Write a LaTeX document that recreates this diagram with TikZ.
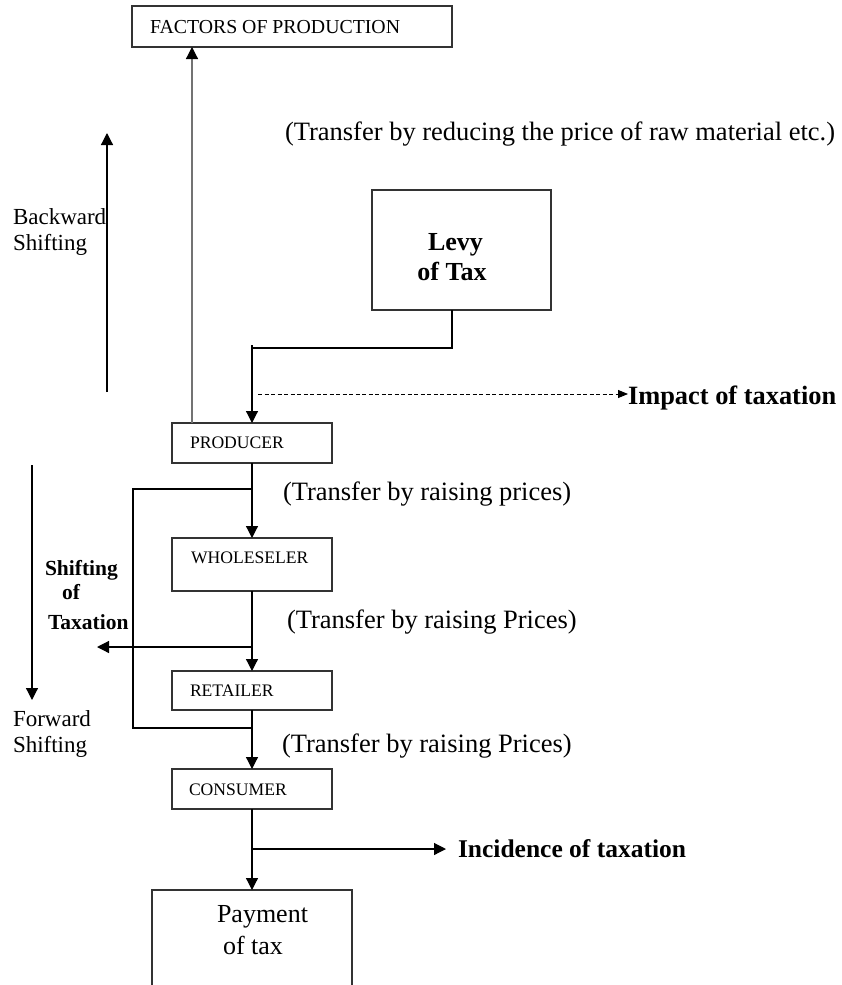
\documentclass[tikz,border=0pt]{standalone}
\usepackage{fontspec}
\setmainfont{Liberation Serif}
\usetikzlibrary{arrows.meta}
\begin{document}
\begin{tikzpicture}[x=1pt,y=-1pt,
  box/.style={draw=black!80, line width=1.3pt, inner sep=0pt, outer sep=0pt},
  lab/.style={inner sep=0pt, outer sep=0pt, anchor=base west, font=\fontsize{17.6}{20}\selectfont},
  big/.style={inner sep=0pt, outer sep=0pt, anchor=west, font=\fontsize{26.5}{30}\selectfont},
  side/.style={inner sep=0pt, outer sep=0pt, anchor=base west, font=\fontsize{23}{26}\selectfont},
  sidebold/.style={inner sep=0pt, outer sep=0pt, anchor=base west, font=\bfseries\fontsize{21.5}{24}\selectfont},
  bigbold/.style={inner sep=0pt, outer sep=0pt, anchor=base west, font=\bfseries\fontsize{26.4}{30}\selectfont},
  conn/.style={line width=1.2pt, draw=black},
  arr/.style={conn, -{Triangle[length=12pt,width=12pt]}},
]
\useasboundingbox (0,0) rectangle (842,985);

% boxes
\node[box, minimum width=320pt, minimum height=41pt] (fac) at (292,26.5) {};
\node[box, minimum width=179pt, minimum height=120pt] (levy) at (461.5,250) {};
\node[box, minimum width=160pt, minimum height=40pt] (prod) at (252,443) {};
\node[box, minimum width=160pt, minimum height=53pt] (whol) at (252,564.5) {};
\node[box, minimum width=160pt, minimum height=39pt] (ret) at (252,690.5) {};
\node[box, minimum width=160pt, minimum height=40pt] (cons) at (252,789) {};
\node[inner sep=0pt, outer sep=0pt, minimum width=200pt, minimum height=95pt, anchor=north] (pay) at (252,890) {};
\draw[box] (pay.south west) -- (pay.north west) -- (pay.north east) -- (pay.south east);

% box labels
\node[lab, font=\fontsize{19.8}{22}\selectfont] (factxt) at (150,33.5) {FACTORS OF PRODUCTION};
\node[lab] (prodtxt) at (190,448) {PRODUCER};
\node[lab] (wholtxt) at (191,563) {WHOLESELER};
\node[lab] (rettxt) at (190,696) {RETAILER};
\node[lab] (constxt) at (189,795) {CONSUMER};
\node[bigbold, anchor=base, font=\bfseries\fontsize{26}{30}\selectfont] (levy1) at (455.5,250) {Levy};
\node[bigbold, anchor=base, font=\bfseries\fontsize{26}{30}\selectfont] (levy2) at (452,280) {of Tax};
\node[side, font=\fontsize{26}{30}\selectfont] (pay1) at (217,922) {Payment};
\node[side, font=\fontsize{26}{30}\selectfont] (pay2) at (223,954) {of tax};

% transfer texts
\node[big] (t1) at (285,134) {(Transfer by reducing the price of raw material etc.)};
\node[big] (t2) at (283,494) {(Transfer by raising prices)};
\node[big] (t3) at (287,622) {(Transfer by raising Prices)};
\node[big] (t4) at (282,746) {(Transfer by raising Prices)};

% side texts
\node[side] (bw1) at (13,224) {Backward};
\node[side] (bw2) at (13,250) {Shifting};
\node[side] (fw1) at (13,726) {Forward};
\node[side] (fw2) at (13,752) {Shifting};
\node[sidebold] (s1) at (45,575) {Shifting};
\node[sidebold] (s2) at (62,599) {of};
\node[sidebold] (s3) at (48,629) {Taxation};

\node[bigbold] (imp) at (628,404) {Impact of taxation};
\node[bigbold, font=\bfseries\fontsize{25.5}{30}\selectfont] (inc) at (458,857) {Incidence of taxation};

% connectors
\coordinate (j1) at (252,348);
\draw[conn] ([xshift=-9.5pt]levy.south) |- (j1);
\draw[arr] ([yshift=3pt]j1) -- (prod.north);

\coordinate (d0) at (258,394);
\draw[conn, line width=0.9pt, dash pattern=on 4pt off 2.5pt, -{Triangle[length=10pt,width=8pt]}] (d0) -- (d0 -| imp.west);

\draw[conn, draw=black!55, -{Triangle[length=12pt,width=12pt,color=black]}] ([xshift=20pt]prod.north west) -- ([xshift=20pt]prod.north west |- fac.south);

\draw[arr] (prod.south) -- (whol.north);
\coordinate (f1) at (252,489);
\coordinate (f2) at (133,489);
\coordinate (f3) at (133,728);
\coordinate (f4) at (252,728);
\draw[conn] (f1) -- (f2) -- (f3) -- (f4);

\draw[arr] (whol.south) -- (ret.north);
\coordinate (l0) at (252,647);
\coordinate (l1) at (97,647);
\draw[arr] (l0) -- (l1);

\draw[arr] (ret.south) -- (cons.north);
\draw[arr] (cons.south) -- (pay.north);
\coordinate (i0) at (252,849);
\draw[arr] (i0) -- ([xshift=-12pt]i0 -| inc.west);

\coordinate (b0) at (107,392);
\coordinate (b1) at (107,133);
\draw[arr] (b0) -- (b1);
\coordinate (w0) at (32,465);
\coordinate (w1) at (32,700);
\draw[arr] (w0) -- (w1);
\end{tikzpicture}
\end{document}
